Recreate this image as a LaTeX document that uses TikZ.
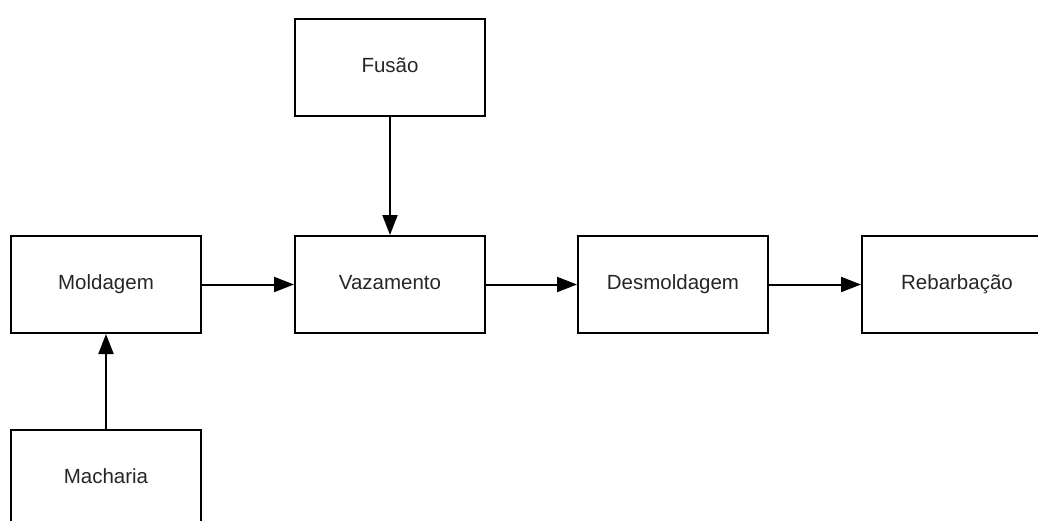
\documentclass[tikz,border=0pt]{standalone}
\usepackage{fontspec}
\setmainfont{Liberation Sans}
\usetikzlibrary{arrows.meta}
\begin{document}
\begin{tikzpicture}[x=1pt,y=-1pt,
  stepbox/.style={draw=black,line width=2pt,minimum width=190pt,minimum height=97pt,inner sep=0pt,
    text height=14.5pt,text depth=4pt,
    font=\fontsize{20.5}{23}\selectfont,text=black!85},
  flow/.style={line width=2pt,-{Triangle[length=20pt,width=15pt]}}]
\useasboundingbox (0,0) rectangle (1038,520);
\clip (0,0) rectangle (1038,520);
\node[stepbox] (fusao) at (390,67) {Fusão};
\node[stepbox] (mold) at (106,284.5) {Moldagem};
\node[stepbox] (vaz) at (390,284.5) {Vazamento};
\node[stepbox] (desm) at (673,284.5) {Desmoldagem};
\node[stepbox] (rebar) at (957,284.5) {Rebarbação};
\node[stepbox] (mach) at (106,478.5) {Macharia};
\draw[flow] (fusao) -- (vaz);
\draw[flow] (mold) -- (vaz);
\draw[flow] (vaz) -- (desm);
\draw[flow] (desm) -- (rebar);
\draw[flow] (mach) -- (mold);
\end{tikzpicture}
\end{document}
